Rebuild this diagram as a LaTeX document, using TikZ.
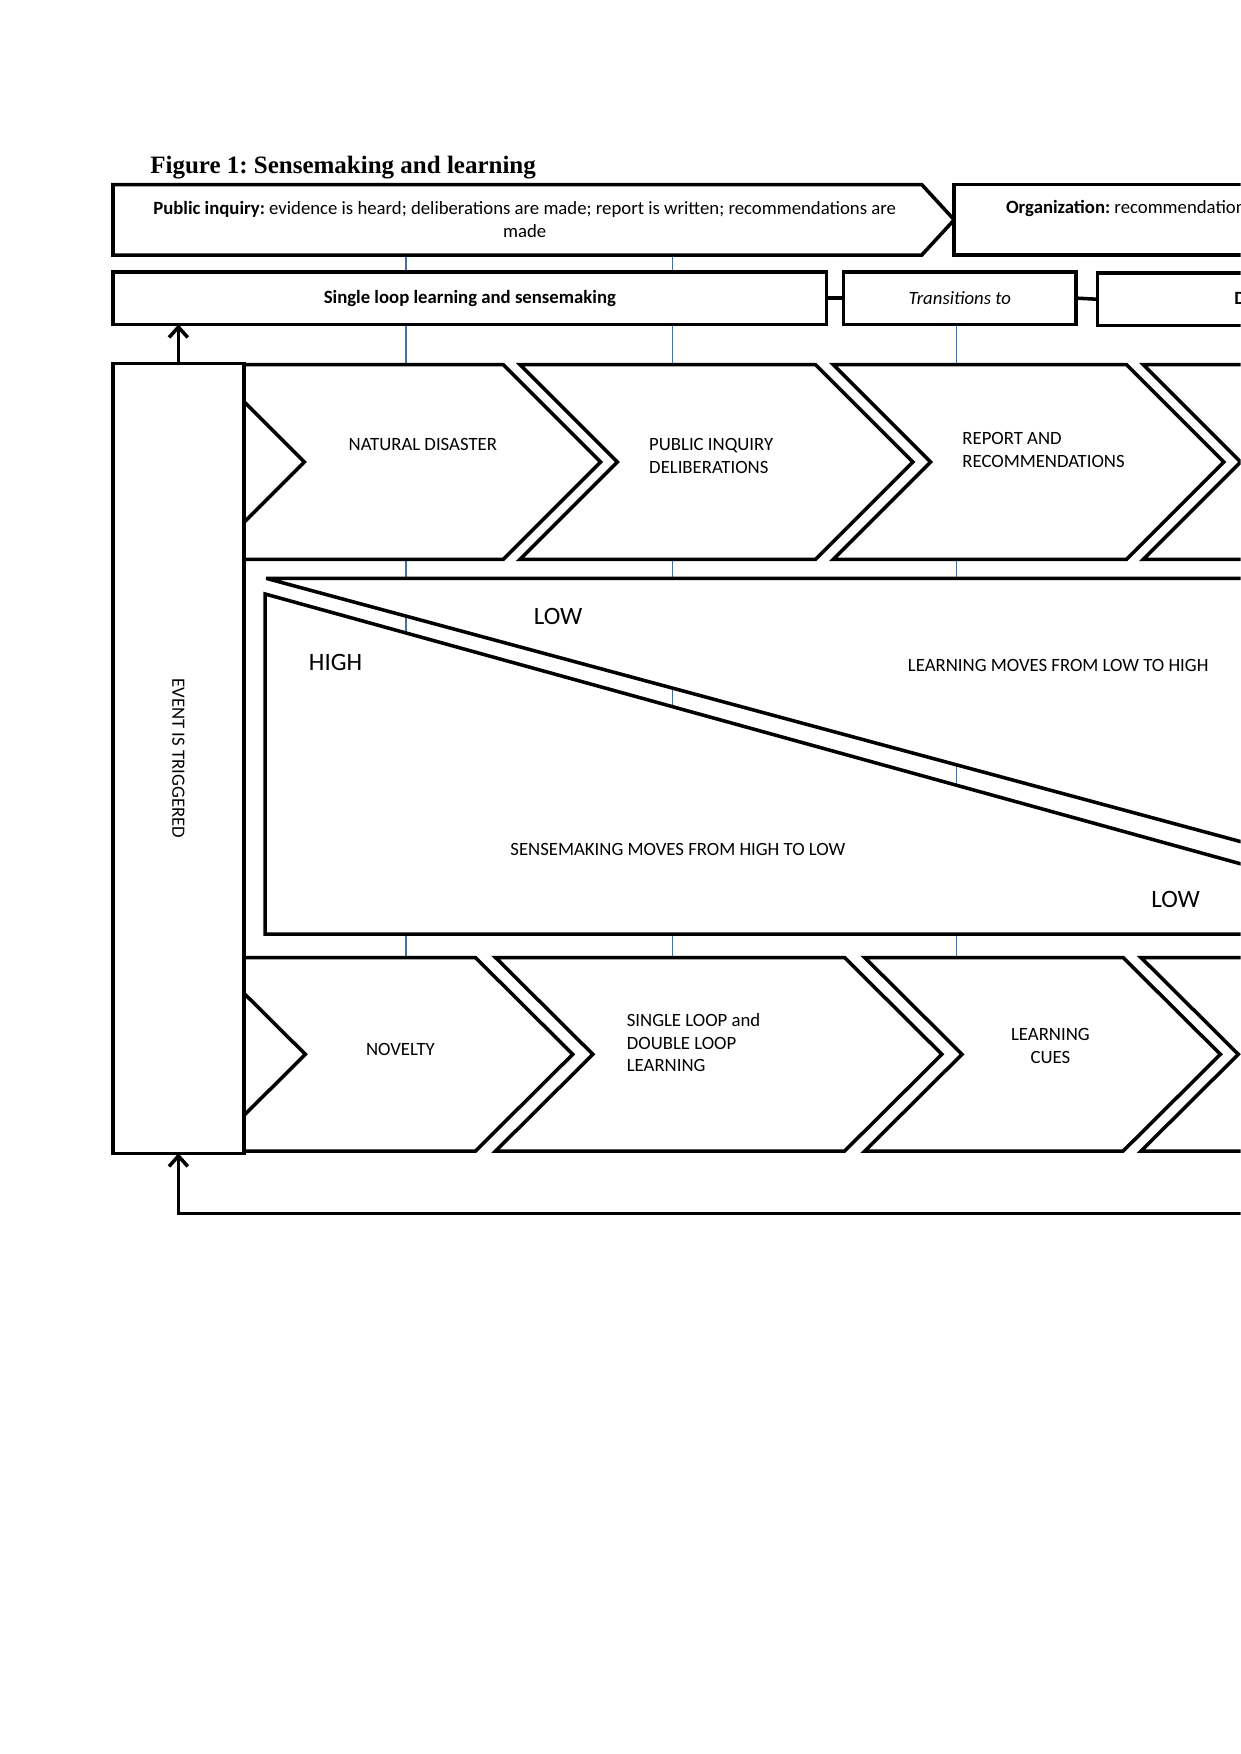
\documentclass[tikz,border=0pt]{standalone}
\usepackage{fontspec}
\setmainfont{Carlito}
\newfontfamily\titlefont{Liberation Serif}
\usetikzlibrary{arrows.meta,fit}
\definecolor{gridblue}{RGB}{70,112,158}
\frenchspacing
\begin{document}
\begin{tikzpicture}[x=0.5371pt,y=-0.5371pt,
  thickline/.style={line width=1.7pt, line join=miter},
  box/.style={draw, line width=1.7pt, fill=white, inner sep=0pt, outer sep=0pt},
  chev/.style={draw, line width=1.7pt, fill=white, line join=miter},
  guide/.style={draw=gridblue, line width=0.55pt},
  txt/.style={font=\fontsize{9}{11}\selectfont, inner sep=0pt, align=left},
  bigtxt/.style={font=\fontsize{12}{14}\selectfont, inner sep=0pt},
  uparrow/.style={line width=1.7pt, line join=miter, -{Straight Barb[length=5pt,width=9pt,line width=1.7pt]}}
]
\useasboundingbox (0,0) rectangle (1109,1568);
\clip (0,0) rectangle (1109,1568);

% title
\node[anchor=base west, inner sep=0pt, font=\titlefont\fontsize{12}{14}\selectfont\bfseries] (title) at (134,155) {Figure 1: Sensemaking and learning};

% thin blue guide lines
\coordinate (g1t) at (363,228); \coordinate (g1b) at (363,857);
\coordinate (g2t) at (601,228); \coordinate (g2b) at (601,857);
\coordinate (g3t) at (855,290); \coordinate (g3b) at (855,857);
\draw[guide] (g1t) -- (g1b);
\draw[guide] (g2t) -- (g2b);
\draw[guide] (g3t) -- (g3b);

% row 1
\draw[chev] (101,165) -- (824,165) -- (853,196.5) -- (824,228) -- (101,228) -- cycle;
\node[txt, align=center] (inqtxt) at (469,196) {\textbf{Public inquiry:} evidence is heard; deliberations are made; report is written; recommendations are\\made};
\node[box, fit={(853,165) (1130,228)}] (org) {};
\node[txt, anchor=west] (orgtxt) at (899,186) {\textbf{Organization:} recommendations};

% row 2
\node[box, fit={(101,243) (739,290)}, label={[font=\fontsize{9}{11}\selectfont\bfseries]center:Single loop learning and sensemaking}] (sl) {};
\node[box, fit={(754,243) (962,290)}, label={[font=\fontsize{9}{11}\selectfont\itshape]center:Transitions to}] (tr) {};
\node[box, fit={(981,244) (1130,291)}] (dl) {};
\node[txt, anchor=west, font=\fontsize{9}{11}\selectfont\bfseries] (dltxt) at (1103,267) {D};
\draw[thickline] (sl.east) -- (tr.west);
\draw[thickline] (tr.east) -- (dl.west);

% row 3 chevrons
\draw[chev] (185,326) -- (450,326) -- (537,413) -- (450,500) -- (185,500) -- (272,413) -- cycle;
\draw[chev] (465,326) -- (729,326) -- (816,413) -- (729,500) -- (465,500) -- (552,413) -- cycle;
\draw[chev] (745,326) -- (1007,326) -- (1094,413) -- (1007,500) -- (745,500) -- (832,413) -- cycle;
\draw[chev] (1022,326) -- (1290,326) -- (1377,413) -- (1290,500) -- (1022,500) -- (1109,413) -- cycle;
\node[txt] (nd) at (378,397) {NATURAL DISASTER};
\node[txt, anchor=west] (pid) at (580,408) {PUBLIC INQUIRY\\DELIBERATIONS};
\node[txt, anchor=west] (rar) at (860,402) {REPORT AND\\RECOMMENDATIONS};

% row 4 triangles
\draw[chev, line join=bevel] (238,517) -- (1130,517) -- (1130,758) -- cycle;
\draw[chev] (237,531) -- (1130,778) -- (1130,835) -- (237,835) -- cycle;
\node[bigtxt] (low1) at (499,551) {LOW};
\node[bigtxt] (high) at (300,592) {HIGH};
\node[txt] (lm) at (946,595) {LEARNING MOVES FROM LOW TO HIGH};
\node[txt] (sm) at (606,759) {SENSEMAKING MOVES FROM HIGH TO LOW};
\node[bigtxt] (low2) at (1051,804) {LOW};

% row 5 chevrons
\draw[chev] (186,856) -- (425,856) -- (512,942.5) -- (425,1029) -- (186,1029) -- (273,942.5) -- cycle;
\draw[chev] (443,856) -- (755,856) -- (842,942.5) -- (755,1029) -- (443,1029) -- (530,942.5) -- cycle;
\draw[chev] (773,856) -- (1004,856) -- (1091,942.5) -- (1004,1029) -- (773,1029) -- (860,942.5) -- cycle;
\draw[chev] (1020,856) -- (1290,856) -- (1377,942.5) -- (1290,1029) -- (1020,1029) -- (1107,942.5) -- cycle;
\node[txt] (nov) at (358,938) {NOVELTY};
\node[txt, anchor=west] (sdl) at (560,932) {SINGLE LOOP and\\DOUBLE LOOP\\LEARNING};
\node[txt, align=center] (lc) at (939,935) {LEARNING\\CUES};

% vertical event box
\node[box, fit={(101,325) (218,1031)}, label={[font=\fontsize{9}{11}\selectfont, rotate=-90]center:EVENT IS TRIGGERED}] (evt) {};

% arrows
\draw[uparrow] (evt.north) -- (evt.north |- sl.south);
\coordinate (loopR) at (1130,1085);
\draw[uparrow] (loopR) -- (loopR -| evt.south) -- (evt.south);
\end{tikzpicture}
\end{document}
